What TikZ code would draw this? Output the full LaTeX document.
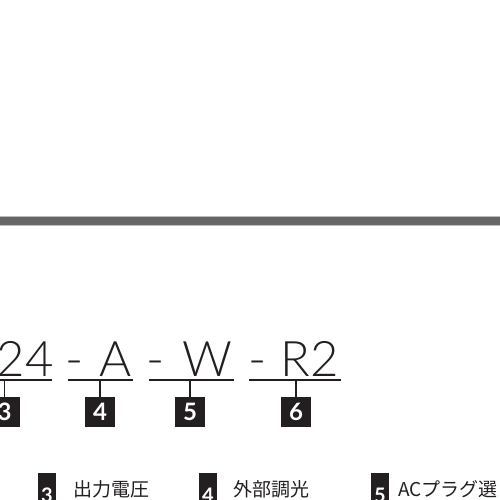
\documentclass[tikz,border=0pt]{standalone}
\usepackage{fontspec}
\setmainfont{Noto Sans CJK JP}
\newfontfamily\thinfont{Lato Light}
\newfontfamily\numfont{Lato}
\usetikzlibrary{positioning}
\definecolor{PartInk}{HTML}{231F20}
\definecolor{BarGray}{HTML}{666666}
\definecolor{BarEdge}{HTML}{BBBBBB}

\begin{document}
\begin{tikzpicture}[x=1pt, y=-1pt,
    code/.style={
      font=\thinfont\fontsize{49}{49}\selectfont,
      text=PartInk, inner sep=0pt, anchor=base
    },
    numbox/.style={
      fill=PartInk, text=white, inner sep=0pt,
      minimum width=30pt, minimum height=30pt,
      font=\numfont\bfseries\fontsize{24}{24}\selectfont
    },
    keybox/.style={
      fill=PartInk, text=white, inner sep=0pt, anchor=north,
      minimum width=18pt, minimum height=44pt,
      font=\numfont\bfseries\fontsize{20}{20}\selectfont
    },
    uline/.style={draw=PartInk, line width=1.3pt},
    legend/.style={
      font=\fontsize{19}{19}\selectfont,
      text=PartInk, inner sep=0pt, anchor=west
    }
  ]
  \useasboundingbox (0,0) rectangle (500,500);

  % Divider bar
  \filldraw[fill=BarGray, draw=BarEdge, line width=0.8pt]
    (-2,216.5) rectangle (502,225.5);

  % Part code
  \node[code] (v24) at (25,376) {24};
  \node[code] (h4) at (74.5,376) {-};
  \node[code] (vA) at (116,376) {A};
  \node[code] (h5) at (155.5,376) {-};
  \node[code] (vW) at (207.5,376) {W};
  \node[code] (h6) at (257.5,376) {-};
  \node[code] (vR) at (310,376) {R2};

  % Underlines
  \draw[uline] (-2,380) -- (52,380);
  \draw[uline] (68,380) -- (133,380);
  \draw[uline] (149,380) -- (234,380);
  \draw[uline] (249,380) -- (341,380);
  \coordinate (u3) at (4.5,380);
  \coordinate (u4) at (100,380);
  \coordinate (u5) at (190,380);
  \coordinate (u6) at (296,380);

  % Number boxes
  \node[numbox] (n3) at (4.5,412) {3};
  \node[numbox] (n4) at (100,412) {4};
  \node[numbox] (n5) at (190,412) {5};
  \node[numbox] (n6) at (296,412) {6};
  \draw[uline] (n3) -- (u3);
  \draw[uline] (n4) -- (u4);
  \draw[uline] (n5) -- (u5);
  \draw[uline] (n6) -- (u6);

  % Legend
  \node[keybox] (k3) at (47,473) {3};
  \node[legend] (t3) at (73,489) {出力電圧};
  \node[keybox] (k4) at (208,473) {4};
  \node[legend] (t4) at (233,489) {外部調光};
  \node[keybox] (k5) at (380,473) {5};
  \node[legend] (t5) at (398,489) {ACプラグ選};

\end{tikzpicture}
\end{document}
